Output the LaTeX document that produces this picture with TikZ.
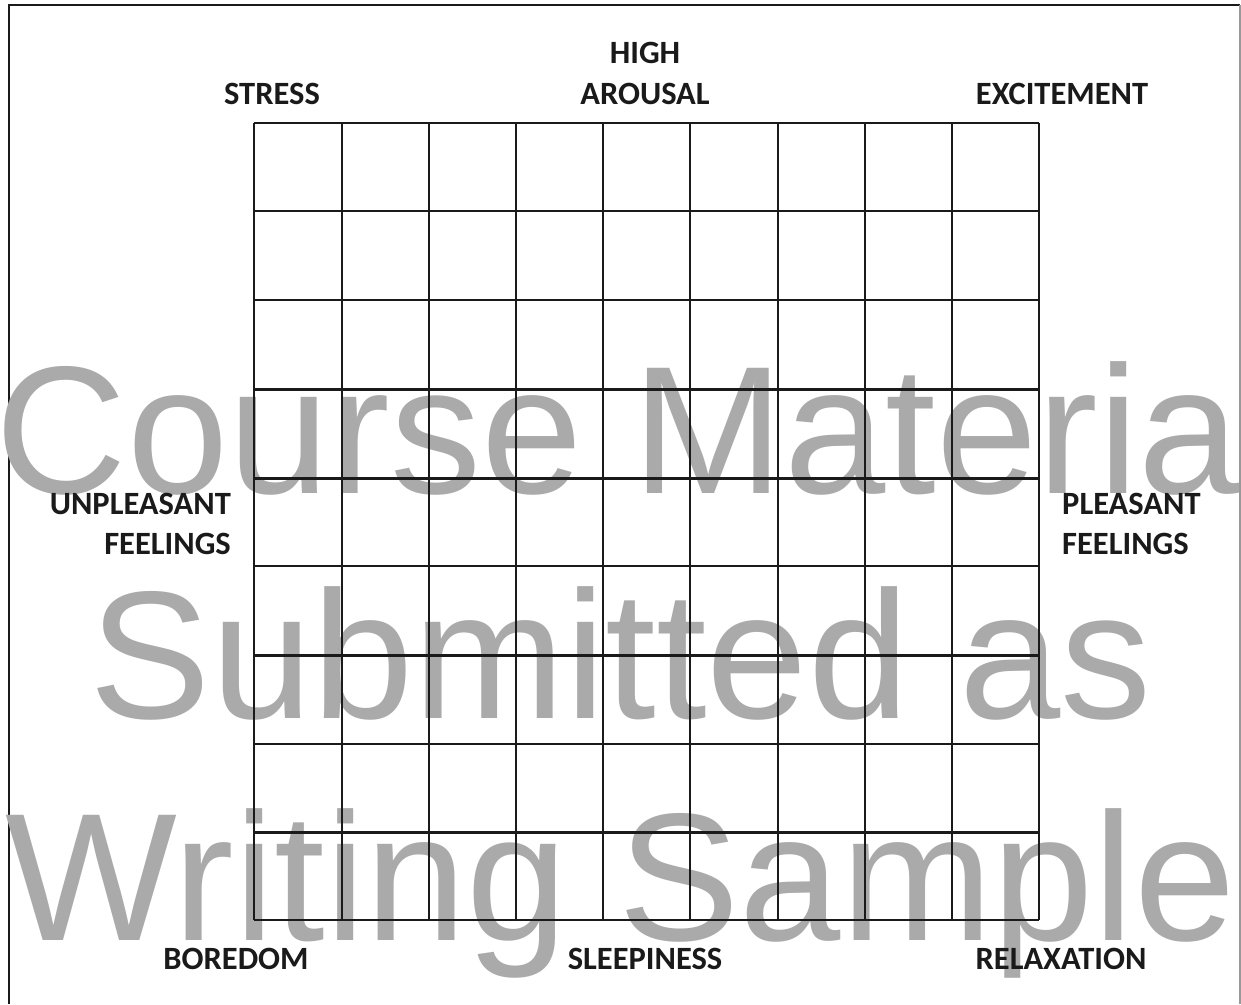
\documentclass[tikz,border=0pt]{standalone}
\usepackage{fontspec}
\setmainfont{Liberation Sans}
\newfontfamily\labelfont{Carlito}
\definecolor{wmgray}{HTML}{AAAAAA}
\definecolor{inkc}{HTML}{1A1A1A}
\begin{document}
\begin{tikzpicture}[x=1pt,y=-1pt,
  lbl/.style={font=\labelfont\bfseries\fontsize{32.5}{40}\selectfont, text=inkc, inner sep=0pt, anchor=base},
  wm/.style={font=\fontsize{182}{200}\selectfont, text=wmgray, inner sep=0pt, anchor=base},
  gridline/.style={line width=2pt, draw=inkc},
  thickline/.style={line width=3pt, draw=inkc}]
\useasboundingbox (0,0) rectangle (1241,1004);
\fill[white] (0,0) rectangle (1241,1004);
% frame
\draw[line width=2pt, inkc] (8.5,1004) -- (8.5,5) -- (1240,5);
\draw[line width=1.2pt, black!40] (1240,5) -- (1240,1004);
% watermark
\node[wm] (wm1) at (618,493) {Course Materia};
\node[wm] (wm2) at (621,718) {Submitted as};
\node[wm] (wm3) at (620.5,940) {Writing Sample};
% grid
\foreach \x in {254,342,429,516,603,690,778,865,952,1039}
  \draw[gridline] (\x,123) -- (\x,920);
\foreach \y in {123,211,300,566,744,920}
  \draw[gridline] (254,\y) -- (1039,\y);
\foreach \y in {389,478,655,832}
  \draw[thickline] (254,\y) -- (1039,\y);
% labels
\node[lbl] (stress) at (272,104) {STRESS};
\node[lbl] (high) at (645,63) {HIGH};
\node[lbl] (arousal) at (645,104) {AROUSAL};
\node[lbl] (excite) at (1062,104) {EXCITEMENT};
\node[lbl, anchor=base east] (unpl) at (231,514) {UNPLEASANT};
\node[lbl, anchor=base east] (unplf) at (231,554) {FEELINGS};
\node[lbl, anchor=base west] (pl) at (1062,514) {PLEASANT};
\node[lbl, anchor=base west] (plf) at (1062,554) {FEELINGS};
\node[lbl] (bored) at (236,969) {BOREDOM};
\node[lbl] (sleep) at (645,969) {SLEEPINESS};
\node[lbl] (relax) at (1061,969) {RELAXATION};
\end{tikzpicture}
\end{document}
